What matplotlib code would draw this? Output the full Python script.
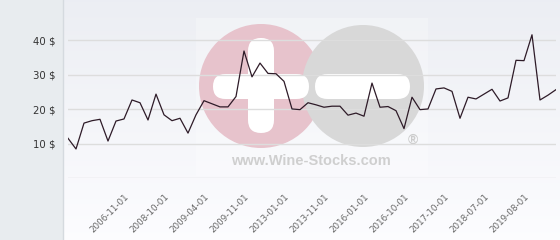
import numpy as np
import matplotlib
matplotlib.use("Agg")
import matplotlib.pyplot as plt
from matplotlib.patches import Circle, FancyBboxPatch, Rectangle

# ---- data ----
values = [11.6, 8.5, 16.0, 16.7, 17.1, 10.8, 16.6, 17.2, 22.7, 21.9,
          16.9, 24.4, 18.4, 16.7, 17.4, 13.1, 18.4, 22.5, 21.6, 20.7,
          20.7, 23.7, 36.9, 29.4, 33.4, 30.4, 30.3, 28.1, 20.1, 19.9,
          21.9, 21.3, 20.6, 20.9, 20.9, 18.3, 18.9, 18.0, 27.6, 20.6,
          20.8, 19.6, 14.4, 23.5, 19.9, 20.1, 25.9, 26.2, 25.2, 17.4,
          23.5, 23.0, 24.4, 25.8, 22.4, 23.3, 34.2, 34.1, 41.6, 22.7,
          24.1, 25.7]
tick_labels = ["2006-11-01", "2008-10-01", "2009-04-01", "2009-11-01",
               "2013-01-01", "2013-11-01", "2016-01-01", "2016-10-01",
               "2017-10-01", "2018-07-01", "2019-08-01"]
tick_index = [7, 12, 17, 22, 27, 32, 37, 42, 47, 52, 57]
y_ticks = [10, 20, 30, 40]
y_labels = ["10 $", "20 $", "30 $", "40 $"]

W, H = 560, 240
fig = plt.figure(figsize=(W / 100, H / 100), dpi=100)
fig.patch.set_facecolor("#e8ecef")

# background of the plot region (gradient)
bg = fig.add_axes([63 / W, 0, 1 - 63 / W, 1], zorder=0)
grad = np.linspace(0, 1, 256).reshape(-1, 1)
top = np.array([0.925, 0.933, 0.953])
bot = np.array([0.99, 0.99, 1.0])
img = (top[None, None, :] * (1 - grad[..., None]) + bot[None, None, :] * grad[..., None])
bg.imshow(img, aspect="auto", extent=[0, 1, 0, 1])
bg.set_axis_off()
fig.add_artist(plt.Line2D([63 / W, 63 / W], [0, 1], color="#d5dadf", lw=1))

# watermark overlay in pixel coords
wm = fig.add_axes([0, 0, 1, 1], zorder=1)
wm.set_xlim(0, W)
wm.set_ylim(H, 0)
wm.set_axis_off()
wm.patch.set_alpha(0)
wm.add_patch(Rectangle((196, 18), 232, 158, color="white", alpha=0.25, lw=0))
pink = "#e7c3cc"
gray = "#d8d8d8"
wm.add_patch(Circle((261, 86), 62, color=pink, lw=0))
wm.add_patch(Circle((363, 86), 61, color=gray, lw=0))
# plus sign
wm.add_patch(FancyBboxPatch((213, 74), 96, 25, boxstyle="round,pad=0,rounding_size=12.5",
                            color="white", lw=0))
wm.add_patch(FancyBboxPatch((248, 38), 26, 95, boxstyle="round,pad=0,rounding_size=13",
                            color="white", lw=0))
# minus sign
wm.add_patch(FancyBboxPatch((315, 74), 95, 25, boxstyle="round,pad=0,rounding_size=12.5",
                            color="white", lw=0))
wm.text(311, 161, "www.Wine-Stocks.com", ha="center", va="center", fontsize=10.5,
        fontweight="bold", color="#cfcfcf", family="Liberation Sans")
wm.text(413, 140, "®", ha="center", va="center", fontsize=10, fontweight="bold",
        color="#cccccc", family="Liberation Sans")

# main axes
y0 = 178.3
ppu = 3.45
ymax = y0 / ppu
ax = fig.add_axes([68 / W, 1 - y0 / H, (556 - 68) / W, y0 / H], zorder=2)
ax.patch.set_alpha(0)
x = np.arange(len(values))
ax.plot(x, values, color="#2e1b28", lw=0.9, zorder=3)
ax.set_xlim(0, len(values) - 1)
ax.set_ylim(0, ymax)
for s in ax.spines.values():
    s.set_visible(False)
for v in [0] + y_ticks:
    ax.axhline(v, color="#dddddd", lw=1, zorder=1)
ax.set_yticks(y_ticks)
ax.set_yticklabels(y_labels, fontsize=7.3, color="#333333", family="DejaVu Sans")
ax.tick_params(axis="y", length=0, pad=9)
ax.set_xticks(tick_index)
ax.set_xticklabels(tick_labels, rotation=45, ha="right", rotation_mode="anchor",
                   fontsize=6.3, color="#666666", family="DejaVu Sans")
ax.tick_params(axis="x", length=0, pad=10)

fig.savefig("out.png", dpi=100)
